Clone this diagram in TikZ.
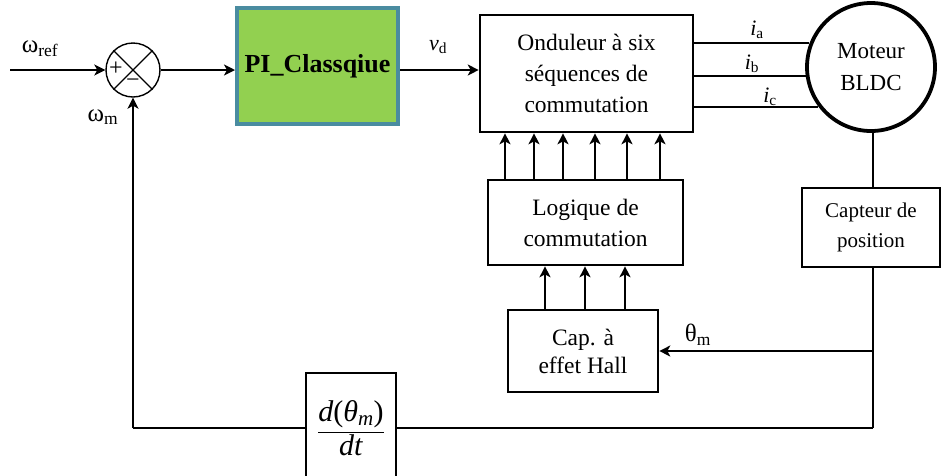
\documentclass[tikz,border=0pt]{standalone}
\usepackage{fontspec}
\setmainfont{Liberation Serif}
\usetikzlibrary{arrows.meta}
\definecolor{pigreen}{RGB}{146,208,80}
\definecolor{piedge}{RGB}{74,140,160}
\tikzset{
  box/.style={draw, line width=2.6pt, fill=white, inner sep=0pt, align=center, font=\fontsize{23.5}{31}\selectfont},
  wire/.style={line width=1.8pt},
  arr/.style={line width=1.8pt, -{Stealth[length=11pt,width=11pt,inset=3pt]}},
  lbl/.style={font=\fontsize{22}{26}\selectfont, inner sep=0pt},
  glbl/.style={font=\fontsize{25}{28}\selectfont, inner sep=0pt}
}
\begin{document}
\begin{tikzpicture}[x=1pt,y=-1pt]
\path[use as bounding box] (0,0) rectangle (941,475);
\clip (0,0) rectangle (941,475);

% blocks
\node[circle, draw, line width=1.4pt, minimum size=54pt, inner sep=0pt] (sum) at (133,70) {};
\draw[line width=1.4pt] (sum.45) -- (sum.225) (sum.135) -- (sum.315);
\node[font=\fontsize{24}{24}\selectfont, inner sep=0pt] (plus) at (116,69) {+};
\node[font=\fontsize{24}{24}\selectfont, inner sep=0pt] (minus) at (133,83) {−};

\node[draw=piedge, fill=pigreen, line width=4pt, minimum width=161pt, minimum height=116pt, inner sep=0pt,
      font=\fontsize{26}{30}\selectfont\bfseries] (pi) at (317.5,66) {PI\_Classqiue};

\node[box, minimum width=213pt, minimum height=117pt] (inv) at (586.5,73.5) {Onduleur à six\\séquences de\\commutation};
\node[circle, draw, line width=3.8pt, minimum size=128pt, inner sep=0pt, align=center,
      font=\fontsize{23}{32}\selectfont] (motor) at (871,67) {Moteur\\BLDC};
\node[box, minimum width=195pt, minimum height=85pt] (logic) at (585.5,222.5) {Logique de\\commutation};
\node[box, minimum width=150pt, minimum height=82pt, font=\fontsize{23.5}{28}\selectfont] (hall) at (583,351) {Cap. à\\effet Hall};
\node[box, minimum width=138pt, minimum height=79pt, font=\fontsize{21}{30}\selectfont] (capt) at (871,227.5) {Capteur de\\position};
\node[box, minimum width=90pt, minimum height=110pt, font=\fontsize{30}{34}\selectfont] (der) at (351,428)
  {$\displaystyle\frac{\mbox{\textit{d}(\textit{θ}\textsubscript{\textit{m}})}}{\mbox{\textit{dt}}}$};

% coordinates
\coordinate (in) at (10,70);
\coordinate (br) at (873,428);
\coordinate (bl) at (133,428);

% forward path
\draw[arr] (in) -- (sum.west);
\draw[arr] (sum.east) -- (pi.west |- sum.east);
\draw[arr] (pi.east |- sum.east) -- (inv.west |- sum.east);

% currents
\draw[wire] (inv.east |- motor.159) -- (motor.159);
\draw[wire] (inv.east |- motor.188) -- (motor.188);
\draw[wire] (inv.east |- motor.217) -- (motor.217);

% logic -> inverter (six)
\foreach \x in {505,534,563,595,627,660}{
  \draw[arr] (logic.north -| \x,0) -- (inv.south -| \x,0);
}
% hall -> logic (three)
\foreach \x in {545,585,625}{
  \draw[arr] (hall.north -| \x,0) -- (logic.south -| \x,0);
}

% sensor path
\draw[wire] (motor.south -| br) -- (capt.north -| br);
\draw[wire] (capt.south -| br) -- (br);
\draw[arr] (hall.east -| br) -- (hall.east);
\draw[wire] (br) -- (der.east |- br);
\draw[wire] (der.west |- bl) -- (bl);
\draw[arr] (bl) -- (sum.south);

% labels
\node[glbl] (wref) at (40,49) {ω\textsubscript{ref}};
\node[glbl] (wm) at (103,117) {ω\textsubscript{m}};
\node[lbl] (vd) at (438,47) {\textit{v}\textsubscript{d}};
\node[lbl] (ia) at (757,30) {\textit{i}\textsubscript{a}};
\node[lbl] (ib) at (752,64) {\textit{i}\textsubscript{b}};
\node[lbl] (ic) at (770,97) {\textit{i}\textsubscript{c}};
\node[glbl] (thm) at (698,335) {θ\textsubscript{m}};
\end{tikzpicture}
\end{document}
